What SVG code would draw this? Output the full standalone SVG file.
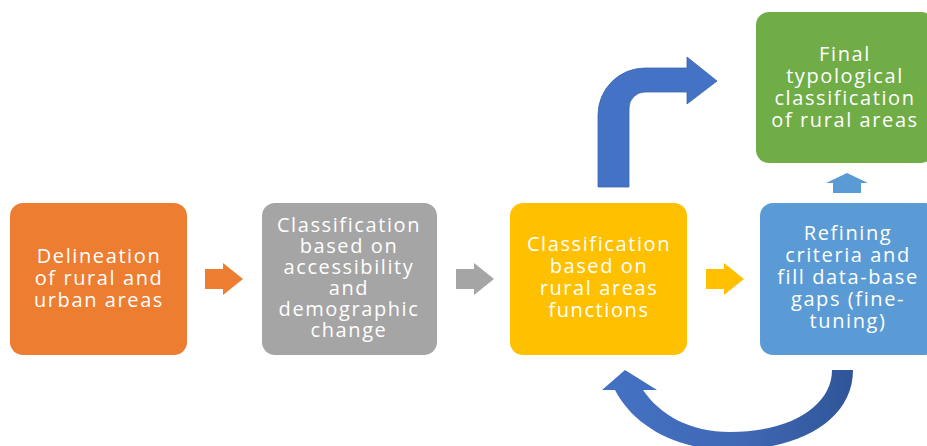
<svg xmlns="http://www.w3.org/2000/svg" width="927" height="446" viewBox="0 0 927 446">
<defs>
<style>
.box{stroke:none}
.t{font-family:"Open Sans","Liberation Sans",sans-serif;font-size:20px;fill:#fff;text-anchor:middle;letter-spacing:1.6px}
</style>
<linearGradient id="cg" x1="600" y1="0" x2="855" y2="0" gradientUnits="userSpaceOnUse">
<stop offset="0" stop-color="#4472C4"/>
<stop offset="0.55" stop-color="#4068B5"/>
<stop offset="1" stop-color="#2F5597"/>
</linearGradient>
</defs>
<rect width="927" height="446" fill="#fff"/>
<g id="n1">
<rect class="box" x="10" y="203" width="177" height="152" rx="13" fill="#ED7D31"/>
<text class="t"><tspan x="99" y="263">Delineation</tspan><tspan x="99" y="285">of rural and</tspan><tspan x="99" y="307">urban areas</tspan></text>
</g>
<g id="n2">
<rect class="box" x="262" y="203" width="175" height="152" rx="13" fill="#A5A5A5"/>
<text class="t"><tspan x="349" y="232">Classification</tspan><tspan x="349" y="253">based on</tspan><tspan x="349" y="274">accessibility</tspan><tspan x="349" y="295">and</tspan><tspan x="349" y="316">demographic</tspan><tspan x="349" y="337">change</tspan></text>
</g>
<g id="n3">
<rect class="box" x="510" y="203" width="177" height="152" rx="13" fill="#FFC000"/>
<text class="t"><tspan x="599" y="251">Classification</tspan><tspan x="599" y="273">based on</tspan><tspan x="599" y="295">rural areas</tspan><tspan x="599" y="317">functions</tspan></text>
</g>
<g id="n4">
<rect class="box" x="760" y="203" width="178" height="152" rx="13" fill="#5B9BD5"/>
<text class="t"><tspan x="848" y="240">Refining</tspan><tspan x="848" y="262">criteria and</tspan><tspan x="848" y="284">fill data-base</tspan><tspan x="848" y="306">gaps (fine-</tspan><tspan x="848" y="328">tuning)</tspan></text>
</g>
<g id="n5">
<rect class="box" x="756" y="12" width="178" height="151" rx="13" fill="#70AD47"/>
<text class="t"><tspan x="845" y="61">Final</tspan><tspan x="845" y="83">typological</tspan><tspan x="845" y="105">classification</tspan><tspan x="845" y="127">of rural areas</tspan></text>
</g>
<g id="connectors">
<polygon points="205,269 223,269 223,263 243,279 223,295 223,289 205,289" fill="#ED7D31"/>
<polygon points="456,269 474,269 474,263 494,279 474,295 474,289 456,289" fill="#A5A5A5"/>
<polygon points="706,269 724,269 724,263 744,279 724,295 724,289 706,289" fill="#FFC000"/>
<polygon points="833,193 833,183 826,183 847,173 868,183 861,183 861,193" fill="#5B9BD5"/>
<path d="M598,187 V115 A47,47 0 0 1 645,68 H687 V57 L717,81 L687,104 V92 H645 A16,16 0 0 0 629,108 V187 Z" fill="#4472C4" stroke="#3A64B0" stroke-width="0.8"/>
<path d="M853,370 C853,420 800,450 730,450 C675,450 633,425 615,390 L602,390 L625,370 L657,390 L643,390 C660,415 690,432 730,432 C792,432 832,405 832,370 Z" fill="url(#cg)"/>
</g>
</svg>
